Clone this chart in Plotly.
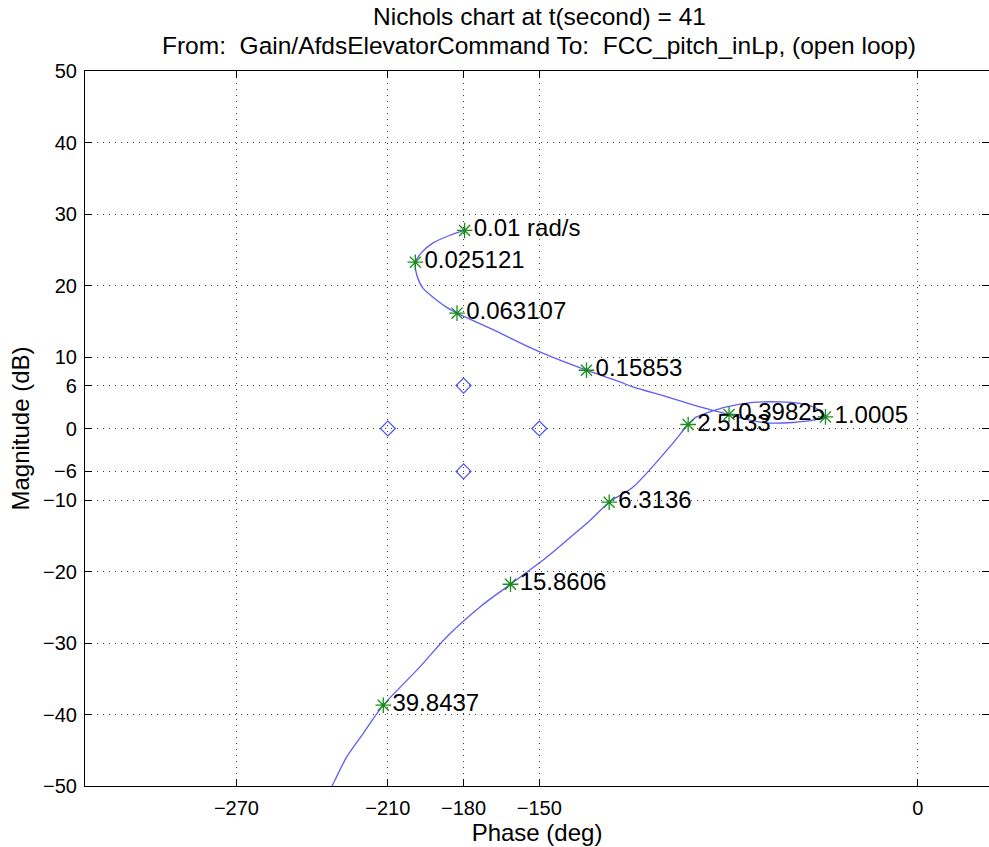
import plotly.graph_objects as go

# Nichols curve: phase (deg) and magnitude (dB), in frequency order
curve_phase = [-179.6, -185.4, -192.2, -196.5, -199.1, -198.5, -196.1, -190.6, -186.2, -182.6,
               -169.6, -149.8, -131.3, -118.1, -112.9, -99.4, -86.4, -74.8, -66.6, -59.9,
               -49.5, -41.6, -36.6, -40.1, -46.8, -54.7, -65.4, -75.8, -82.4, -87.7,
               -91.0, -98.3, -112.8, -122.3, -130.0, -137.9, -147.1, -161.4, -173.5,
               -186.7, -197.3, -211.8, -219.8, -226.3, -231.0, -232.3]
curve_mag = [27.7, 27.03, 25.92, 24.66, 23.26, 21.44, 19.62, 17.94, 16.83, 16.13,
             14.03, 10.71, 8.15, 6.52, 5.82, 4.42, 3.02, 1.96, 1.16, 0.78,
             0.84, 1.16, 1.62, 2.80, 3.50, 3.72, 3.64, 3.02, 2.32, 1.62,
             0.56, -2.57, -8.17, -10.31, -12.90, -15.27, -18.0, -21.78, -24.95,
             -29.15, -33.34, -38.70, -42.66, -45.93, -49.19, -50.13]

# Frequency markers
freq_labels = ["0.01 rad/s", "0.025121", "0.063107", "0.15853", "0.39825",
               "1.0005", "2.5133", "6.3136", "15.8606", "39.8437"]
freq_phase = [-179.6, -199.1, -182.6, -131.3, -74.8, -36.6, -91.0, -122.3, -161.4, -211.8]
freq_mag = [27.7, 23.26, 16.13, 8.15, 1.96, 1.62, 0.56, -10.31, -21.78, -38.70]

# Margin diamonds
diamond_phase = [-210, -180, -180, -150]
diamond_mag = [0, 6, -6, 0]

x_ticks = [-270, -210, -180, -150, 0]
y_ticks = [-50, -40, -30, -20, -10, -6, 0, 6, 10, 20, 30, 40, 50]

title_lines = ["Nichols chart at t(second) = 41",
               "From:  Gain/AfdsElevatorCommand To:  FCC_pitch_inLp, (open loop)"]

FONT = "Liberation Sans, Arial, Helvetica, sans-serif"
W, H = 989, 847
ML, MR, MT, MB = 85, 0, 71, 61
PH = H - MT - MB
PW = W - ML - MR

fig = go.Figure()
fig.add_trace(go.Scatter(x=curve_phase, y=curve_mag, mode="lines",
                         line=dict(color="#5e5ef2", width=1.3, shape="spline", smoothing=0.8),
                         hoverinfo="skip", showlegend=False))
fig.add_trace(go.Scatter(x=diamond_phase, y=diamond_mag, mode="markers",
                         marker=dict(symbol="diamond-open", size=11.5, color="#4f4ff5",
                                     line=dict(width=1.2, color="#4f4ff5")),
                         showlegend=False))
fig.add_trace(go.Scatter(x=freq_phase, y=freq_mag, mode="markers+text",
                         text=freq_labels, textposition="middle right",
                         textfont=dict(family=FONT, size=24, color="black"),
                         marker=dict(symbol="asterisk-open", size=13, color="#1a8c1a",
                                     line=dict(width=1.3, color="#1a8c1a")),
                         cliponaxis=False, showlegend=False))

annotations = []
for line, ypix in zip(title_lines, [16, 46]):
    annotations.append(dict(text=line, xref="paper", yref="paper",
                            x=(539 - ML) / PW, y=(H - MB - ypix) / PH,
                            xanchor="center", yanchor="middle", showarrow=False,
                            font=dict(family=FONT, size=24.5, color="black")))

fig.update_layout(
    width=W, height=H,
    margin=dict(l=ML, r=MR, t=MT, b=MB, autoexpand=False),
    paper_bgcolor="white", plot_bgcolor="white",
    font=dict(family=FONT, size=20, color="black"),
    annotations=annotations,
)
GRID_DASH = "1px,5px"
fig.update_xaxes(range=[-330, 28.2], tickvals=x_ticks, ticks="inside", ticklen=7,
                 tickcolor="black", showline=True, linecolor="black", linewidth=1.2,
                 mirror="ticks", showgrid=True, gridcolor="rgba(0,0,0,0.75)", griddash=GRID_DASH,
                 gridwidth=1, zeroline=False, ticklabelstandoff=4, automargin=False,
                 title=dict(text="Phase (deg)", font=dict(size=24), standoff=0))
fig.update_yaxes(range=[-50, 50], tickvals=y_ticks, ticks="inside", ticklen=7,
                 tickcolor="black", showline=True, linecolor="black", linewidth=1.2,
                 mirror="ticks", showgrid=True, gridcolor="rgba(0,0,0,0.75)", griddash=GRID_DASH,
                 gridwidth=1, zeroline=False, ticklabelstandoff=3, automargin=False,
                 title=dict(text="Magnitude (dB)", font=dict(size=24), standoff=6))

fig.write_html("out.html", config={"displayModeBar": False},
               post_script="document.body.style.margin='0';")
